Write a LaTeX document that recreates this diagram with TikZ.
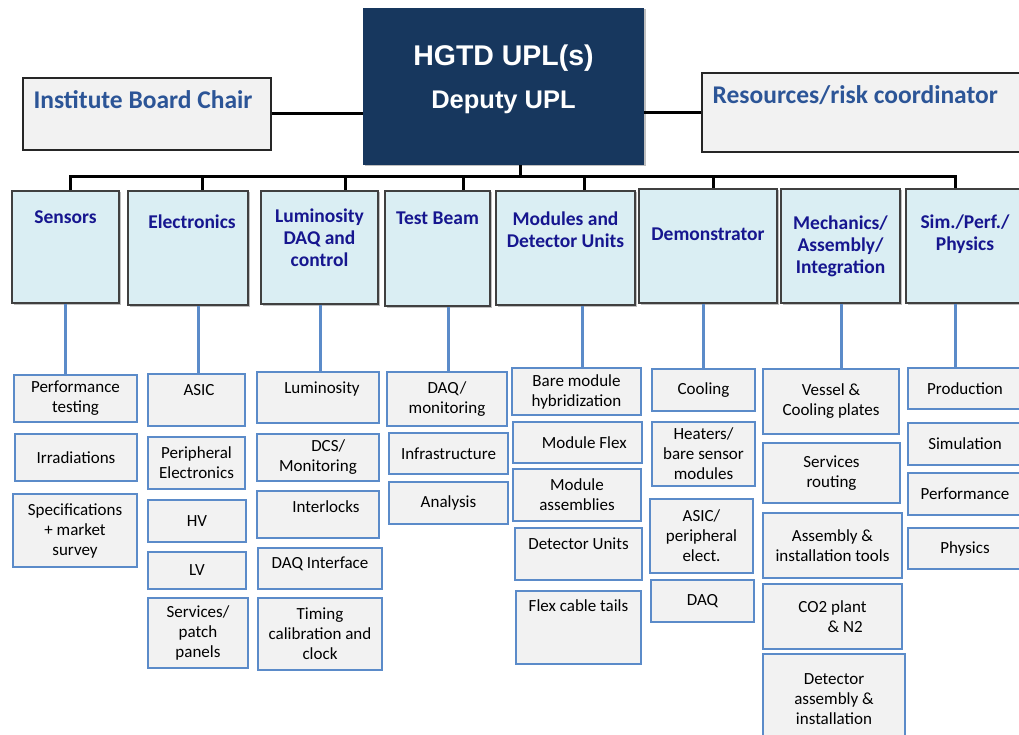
\documentclass[tikz,border=0pt]{standalone}
\usepackage{fontspec}
\setmainfont{Carlito}
\newfontfamily\arialfont{Liberation Sans}
\usetikzlibrary{shadows}
\definecolor{orgNavy}{HTML}{17375E}
\definecolor{orgSideBlue}{HTML}{2C5597}
\definecolor{orgHeadBlue}{HTML}{16168F}
\definecolor{orgGrpFill}{HTML}{DAEEF3}
\definecolor{orgSubFill}{HTML}{F2F2F2}
\definecolor{orgSubLine}{HTML}{5B8BC9}
\tikzset{wh/.style 2 args={minimum width=#1pt,minimum height=#2pt,inner sep=1pt}}
\begin{document}
\begin{tikzpicture}[x=1pt,y=-1pt,
    orgShade/.style={drop shadow={shadow xshift=1.5pt,shadow yshift=-1.5pt,fill=black,opacity=.25}},
    orgTop/.style={fill=orgNavy,wh={281}{157},orgShade},
    orgUplTxt/.style={font=\arialfont\bfseries\fontsize{28.5}{34}\selectfont,text=white,align=center,anchor=center,yshift=-72pt},
    orgSide/.style={draw=black!85,line width=1.2pt,fill=orgSubFill},
    orgSideTxt/.style={font=\bfseries\fontsize{25.5}{30}\selectfont,text=orgSideBlue,anchor=north west,inner sep=0pt,xshift=11pt,yshift=-13pt},
    orgGrp/.style={draw=black!75,line width=1.2pt,fill=orgGrpFill,orgShade},
    orgHead/.style={font=\bfseries\fontsize{19.5}{22}\selectfont,text=orgHeadBlue,align=center,anchor=north,inner sep=0pt},
    orgSub/.style={draw=orgSubLine,line width=1.3pt,fill=orgSubFill,font=\fontsize{17}{20}\selectfont,align=center},
    orgSubTxt/.style={font=\fontsize{17}{20}\selectfont,anchor=north,inner sep=0pt},
    orgBus/.style={line width=3pt,black},
    orgLink/.style={line width=3pt,orgSubLine},
]
\clip (0,0) rectangle (1019,735);
% Leader and side roles
\node[orgTop,label={[orgUplTxt]north:{HGTD UPL(s)\\[9pt]\fontsize{25.5}{34}\selectfont Deputy UPL}}] (UPL) at (503.5,86.5) {};
\node[orgSide,wh={248}{72},label={[orgSideTxt]north west:Institute Board Chair}] (IBC) at (147,114) {};
\node[orgSide,wh={328}{79},label={[orgSideTxt]north west:Resources/risk coordinator}] (RRC) at (866,112.5) {};
% Activity areas
\node[orgGrp,wh={107}{112},label={[orgHead,yshift=-20pt]north:Sensors}] (G1) at (65.5,247) {};
\node[orgGrp,wh={120}{114},label={[orgHead,xshift=4pt,yshift=-24pt]north:Electronics}] (G2) at (188,248) {};
\node[orgGrp,wh={117}{113},label={[orgHead,yshift=-18pt]north:Luminosity\\DAQ and\\control}] (G3) at (319.5,247.5) {};
\node[orgGrp,wh={105}{115},label={[orgHead,yshift=-21pt]north:Test Beam}] (G4) at (437.5,248.5) {};
\node[orgGrp,wh={139}{114},label={[orgHead,yshift=-21pt]north:Modules and\\Detector Units}] (G5) at (565.5,248) {};
\node[orgGrp,wh={138}{114},label={[orgHead,yshift=-39pt]north:Demonstrator}] (G6) at (708,246) {};
\node[orgGrp,wh={119}{114},label={[orgHead,yshift=-27pt]north:Mechanics/\\Assembly/\\Integration}] (G7) at (840.5,246) {};
\node[orgGrp,wh={118}{114},label={[orgHead,yshift=-26pt]north:Sim./Perf./\\Physics}] (G8) at (965,246) {};
% Sensors
\node[orgSub,wh={123}{47}] (S11) at (75.5,398.5) {Performance\\testing};
\node[orgSub,wh={122}{47}] (S12) at (76,457.5) {Irradiations};
\node[orgSub,wh={124}{73}] (S13) at (75,530.5) {Specifications\\+ market\\survey};
% Electronics
\node[orgSub,wh={97}{52},label={[orgSubTxt,xshift=2.5pt,yshift=-11pt]north:ASIC}] (S21) at (196.5,400) {};
\node[orgSub,wh={97}{52}] (S22) at (196.5,463) {Peripheral\\Electronics};
\node[orgSub,wh={98}{42}] (S23) at (197,521) {HV};
\node[orgSub,wh={98}{37}] (S24) at (197,570.5) {LV};
\node[orgSub,wh={100}{70}] (S25) at (198,633) {Services/\\patch\\panels};
% Luminosity
\node[orgSub,wh={122}{51},label={[orgSubTxt,xshift=4pt,yshift=-10pt]north:Luminosity}] (S31) at (318,397.5) {};
\node[orgSub,wh={122}{47}] (S32) at (318,457.5) {\hspace{1.2em}DCS/\\Monitoring};
\node[orgSub,wh={122}{47},label={[orgSubTxt,xshift=8pt,yshift=-10pt]north:Interlocks}] (S33) at (318,514.5) {};
\node[orgSub,wh={124}{41},label={[orgSubTxt,yshift=-9pt]north:DAQ Interface}] (S34) at (320,568.5) {};
\node[orgSub,wh={124}{72}] (S35) at (320,634) {Timing\\calibration and\\clock};
% Test beam
\node[orgSub,wh={120}{54}] (S41) at (447,399) {DAQ/\\monitoring};
\node[orgSub,wh={119}{41}] (S42) at (448.5,453.5) {Infrastructure};
\node[orgSub,wh={119}{42}] (S43) at (448.5,503) {Analysis};
% Modules
\node[orgSub,wh={129}{47}] (S51) at (576.5,391.5) {Bare module\\hybridization};
\node[orgSub,wh={129}{41}] (S52) at (577.5,442.5) {\hspace{0.8em}Module Flex};
\node[orgSub,wh={128}{52}] (S53) at (577,495) {Module\\assemblies};
\node[orgSub,wh={127}{52},label={[orgSubTxt,yshift=-10pt]north:Detector Units}] (S54) at (578.5,554) {};
\node[orgSub,wh={125}{73},label={[orgSubTxt,yshift=-9pt]north:Flex cable tails}] (S55) at (578.5,627.5) {};
% Demonstrator
\node[orgSub,wh={103}{42}] (S61) at (703.5,390) {Cooling};
\node[orgSub,wh={103}{64}] (S62) at (703.5,454) {Heaters/\\bare sensor\\modules};
\node[orgSub,wh={103}{74}] (S63) at (701.5,536) {ASIC/\\peripheral\\elect.};
\node[orgSub,wh={103}{42}] (S64) at (702.5,601) {DAQ};
% Mechanics
\node[orgSub,wh={136}{65}] (S71) at (831,401.5) {Vessel \&\\Cooling plates};
\node[orgSub,wh={137}{60}] (S72) at (831.5,473) {Services\\routing};
\node[orgSub,wh={139}{65}] (S73) at (832.5,545.5) {Assembly \&\\installation tools};
\node[orgSub,wh={139}{65}] (S74) at (832.5,616.5) {CO2 plant\\\hspace{1.5em}\& N2};
\node[orgSub,wh={142}{91}] (S75) at (834,699.5) {Detector\\assembly \&\\installation};
% Simulation
\node[orgSub,wh={114}{41}] (S81) at (965,388.5) {Production};
\node[orgSub,wh={114}{42}] (S82) at (965,444) {Simulation};
\node[orgSub,wh={114}{42}] (S83) at (965,494) {Performance};
\node[orgSub,wh={114}{41}] (S84) at (965,548.5) {Physics};
% Reporting lines
\draw[orgBus] (IBC.east) -- (IBC.east -| UPL.west);
\draw[orgBus] (RRC.west) -- (RRC.west -| UPL.east);
\coordinate (BT) at (520,177);
\draw[orgBus] (BT) -- (BT |- UPL.south);
\foreach \x/\g in {70/G1,202/G2,345/G3,463/G4,584/G5,713/G6,955/G8}{
  \coordinate (B\g) at (\x,177);
}
\draw[orgBus,line join=miter] (BG1 |- G1.north) -- (BG1) -- (BG8) -- (BG8 |- G8.north);
\foreach \g in {G2,G3,G4,G5,G6}{
  \draw[orgBus] (B\g) -- (B\g |- \g.north);
}
% Area to first task
\foreach \x/\g/\s in {65/G1/S11,198/G2/S21,320/G3/S31,448/G4/S41,582/G5/S51,703/G6/S61,841/G7/S71,955/G8/S81}{
  \coordinate (L\g) at (\x,0);
  \draw[orgLink] (L\g |- \g.south) -- (L\g |- \s.north);
}
\end{tikzpicture}
\end{document}
